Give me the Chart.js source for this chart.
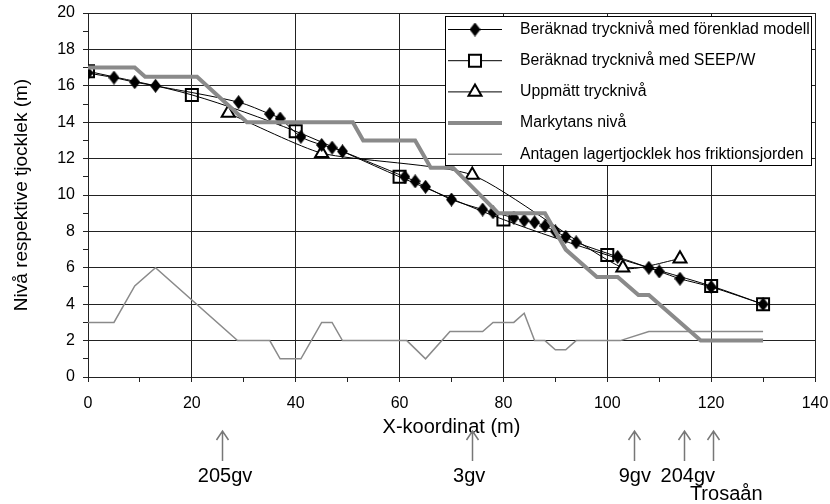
<!DOCTYPE html>
<html>
<head>
<meta charset="utf-8">
<script src="https://cdn.jsdelivr.net/npm/chart.js@4/dist/chart.umd.min.js"></script>
<style>
	html, body {margin: 0; padding: 0; background: #fff;}
	#wrap {width: 830px; height: 504px;}
</style>
</head>
<body>
<div id="wrap"><canvas id="chart_niva" width="830" height="504"></canvas></div>
<script>
'use strict';

// Beräknad trycknivå med förenklad modell
const forenkladX = [0, 5, 9, 13, 29, 35, 37, 41, 45, 47, 49, 61, 63, 65, 70, 76, 78, 82, 84, 86, 88, 90, 92, 94, 102, 108, 110, 114, 120, 130];
const forenkladY = [16.7, 16.45, 16.2, 16.0, 15.1, 14.45, 14.2, 13.2, 12.75, 12.6, 12.4, 11.0, 10.75, 10.45, 9.75, 9.2, 9.05, 8.75, 8.6, 8.5, 8.3, 8.0, 7.7, 7.4, 6.6, 6.0, 5.8, 5.4, 4.95, 4.0];

// Beräknad trycknivå med SEEP/W
const seepX = [0, 20, 40, 60, 80, 100, 120, 130];
const seepY = [16.8, 15.5, 13.5, 11.0, 8.65, 6.7, 5.0, 4.0];

// Uppmätt trycknivå
const uppmattX = [27, 45, 74, 103, 114];
const uppmattY = [14.5, 12.3, 11.1, 6.0, 6.5];

// Markytans nivå
const markX = [0, 9, 11, 21, 30.6, 51, 53, 63, 66, 70.3, 79, 88, 92, 98, 102, 106, 108, 118, 130];
const markY = [17, 17, 16.5, 16.5, 14, 14, 13, 13, 11.5, 11.5, 9, 9, 7, 5.5, 5.5, 4.5, 4.5, 2, 2];

// Antagen lagertjocklek hos friktionsjorden
const lagerX = [0, 5, 9, 13, 28.8, 35, 37, 41, 45, 47, 49, 61.4, 65, 69.7, 76, 78, 82, 84, 86, 88, 90, 92, 94, 102.5, 108, 130];
const lagerY = [3, 3, 5, 6, 2, 2, 1, 1, 3, 3, 2, 2, 1, 2.5, 2.5, 3, 3, 3.5, 2, 2, 1.5, 1.5, 2, 2, 2.5, 2.5];

const seriesNames = [
	'Beräknad trycknivå med förenklad modell',
	'Beräknad trycknivå med SEEP/W',
	'Uppmätt trycknivå',
	'Markytans nivå',
	'Antagen lagertjocklek hos friktionsjorden',
];

// pilar under x-axeln
const arrowX = [25.9, 73.9, 105.1, 114.7, 120.3];
const arrowLabels = ['205gv', '3gv', '9gv', '204gv', 'Trosaån'];
const arrowLabelX = [26.4, 73.4, 105.3, 115.5, 122.9];
const arrowLabelRow = [0, 0, 0, 0, 1];

const FONT = '"Liberation Sans", Arial, sans-serif';
const GRID = '#222';
const GRAY = '#8a8a8a';

function toPoints(xs, ys) {
	return xs.map((x, i) => ({x: x, y: ys[i]}));
}

function makeDiamond(w, h) {
	let c = document.createElement('canvas');
	c.width = w;
	c.height = h;
	let ctx = c.getContext('2d');
	ctx.fillStyle = '#000';
	ctx.beginPath();
	ctx.moveTo(w / 2, 0);
	ctx.lineTo(w, h / 2);
	ctx.lineTo(w / 2, h);
	ctx.lineTo(0, h / 2);
	ctx.closePath();
	ctx.fill();
	return c;
}

const diamond = makeDiamond(11, 14);

const legendInside = {
	id: 'legendInside',
	afterDatasetsDraw(chart) {
		let ctx = chart.ctx,
			left = 445.5,
			top = 16.5,
			width = 366,
			height = 149;
		ctx.save();
		ctx.fillStyle = '#fff';
		ctx.strokeStyle = '#000';
		ctx.lineWidth = 1;
		ctx.fillRect(left, top, width, height);
		ctx.strokeRect(left, top, width, height);
		ctx.font = '15.8px ' + FONT;
		ctx.textBaseline = 'middle';
		chart.data.datasets.forEach((ds, i) => {
			let y = 29.5 + i * 31.2;
			ctx.strokeStyle = ds.borderColor;
			ctx.lineWidth = ds.borderWidth;
			ctx.beginPath();
			ctx.moveTo(448, y);
			ctx.lineTo(502, y);
			ctx.stroke();
			if (ds.pointRadius > 0) {
				ctx.fillStyle = ds.pointStyle === diamond ? '#000' : '#fff';
				ctx.strokeStyle = '#000';
				ctx.lineWidth = ds.pointBorderWidth;
				Chart.helpers.drawPoint(ctx, {
					pointStyle: ds.pointStyle,
					radius: ds.pointRadius,
					borderWidth: ds.pointBorderWidth,
					rotation: 0,
				}, 475, y);
			}
			ctx.fillStyle = '#000';
			ctx.fillText(ds.label, 520, y);
		});
		ctx.restore();
	},
};

const arrowNotes = {
	id: 'arrowNotes',
	afterDraw(chart) {
		let ctx = chart.ctx,
			xScale = chart.scales.x;
		ctx.save();
		ctx.strokeStyle = '#777';
		ctx.lineWidth = 1.5;
		arrowX.forEach(v => {
			let px = Math.round(xScale.getPixelForValue(v)) + 0.5;
			ctx.beginPath();
			ctx.moveTo(px, 461);
			ctx.lineTo(px, 431);
			ctx.moveTo(px - 6, 440);
			ctx.lineTo(px, 431);
			ctx.lineTo(px + 6, 440);
			ctx.stroke();
		});
		ctx.fillStyle = '#000';
		ctx.font = '20px ' + FONT;
		ctx.textAlign = 'center';
		ctx.textBaseline = 'middle';
		arrowLabels.forEach((label, i) => {
			ctx.fillText(label, xScale.getPixelForValue(arrowLabelX[i]), 476 + arrowLabelRow[i] * 18);
		});
		ctx.restore();
	},
};

function renderChart(select) {
	let ctx = document.getElementById(select).getContext('2d');
	Chart.defaults.font.family = FONT;
	Chart.defaults.color = '#000';
	return new Chart(ctx, {
		type: 'line',
		data: {
			datasets: [{
				label: seriesNames[0],
				data: toPoints(forenkladX, forenkladY),
				borderColor: '#000',
				borderWidth: 1,
				tension: 0.3,
				pointStyle: diamond,
				pointRadius: 6,
				pointBorderWidth: 0,
				order: 2,
			}, {
				label: seriesNames[1],
				data: toPoints(seepX, seepY),
				borderColor: '#000',
				borderWidth: 1,
				tension: 0.3,
				pointStyle: 'rect',
				pointRadius: 8.5,
				pointBorderWidth: 2,
				pointBorderColor: '#000',
				pointBackgroundColor: 'rgba(0,0,0,0)',
				order: 3,
			}, {
				label: seriesNames[2],
				data: toPoints(uppmattX, uppmattY),
				borderColor: '#000',
				borderWidth: 1,
				tension: 0.2,
				pointStyle: 'triangle',
				pointRadius: 7.5,
				pointBorderWidth: 2,
				pointBorderColor: '#000',
				pointBackgroundColor: '#fff',
				order: 4,
			}, {
				label: seriesNames[3],
				data: toPoints(markX, markY),
				borderColor: GRAY,
				borderWidth: 4,
				tension: 0,
				pointRadius: 0,
				order: 1,
			}, {
				label: seriesNames[4],
				data: toPoints(lagerX, lagerY),
				borderColor: GRAY,
				borderWidth: 1.5,
				tension: 0,
				pointRadius: 0,
				order: 0,
			}],
		},
		options: {
			responsive: false,
			animation: false,
			layout: {padding: {left: 0, top: 13, right: 15, bottom: 65}},
			plugins: {
				legend: {display: false},
				tooltip: {enabled: false},
			},
			scales: {
				x: {
					type: 'linear',
					min: 0,
					max: 140,
					ticks: {
						stepSize: 10,
						autoSkip: false,
						maxRotation: 0,
						padding: 12,
						font: {size: 16},
						callback: v => (v % 20 === 0 ? v : ''),
					},
					grid: {
						color: c => (c.tick && c.tick.value % 20 === 0 ? GRID : 'rgba(0,0,0,0)'),
						tickColor: GRID,
						tickLength: 5,
						lineWidth: 1,
					},
					border: {color: GRID, width: 1},
					title: {display: true, text: 'X-koordinat (m)', font: {size: 20}, padding: {top: 0, bottom: 0}},
					afterFit: scale => {
						scale.height = 62;
						scale.paddingLeft = 0;
						scale.paddingRight = 0;
					},
				},
				y: {
					type: 'linear',
					min: 0,
					max: 20,
					ticks: {
						stepSize: 1,
						autoSkip: false,
						padding: 8,
						font: {size: 16},
						callback: v => (v % 2 === 0 ? v : ''),
					},
					grid: {
						color: c => (c.tick && c.tick.value % 2 === 0 ? GRID : 'rgba(0,0,0,0)'),
						tickColor: GRID,
						tickLength: 5,
						lineWidth: 1,
					},
					border: {color: GRID, width: 1},
					title: {display: true, text: 'Nivå respektive tjocklek (m)', font: {size: 19}, padding: {top: 10.6, bottom: 0}},
					afterFit: scale => {
						scale.width = 88;
						scale.paddingTop = 0;
						scale.paddingBottom = 0;
					},
				},
			},
		},
		plugins: [legendInside, arrowNotes],
	});
}

window.ChartNiva = renderChart('chart_niva');
</script>
</body>
</html>
